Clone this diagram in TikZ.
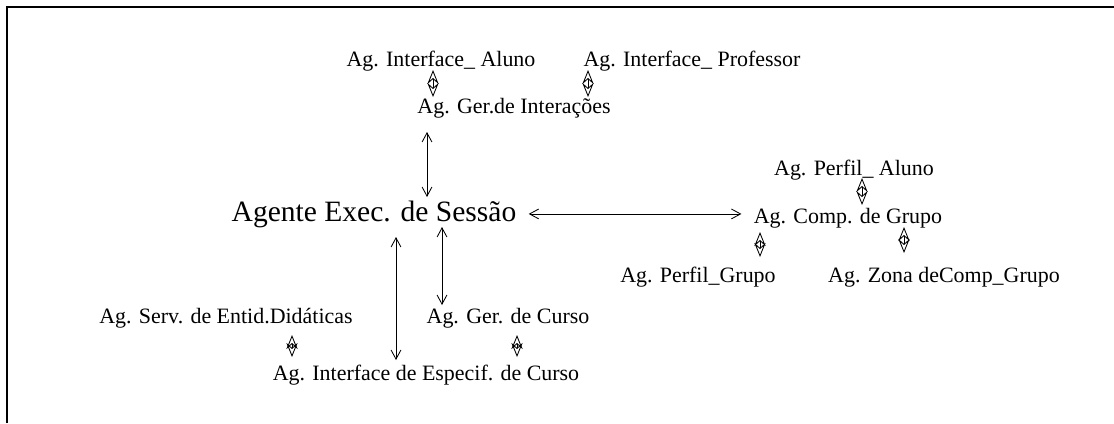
\documentclass[tikz,border=0pt]{standalone}
\usepackage{fontspec}
\setmainfont{Liberation Serif}
\usepackage{tikz}
\usetikzlibrary{arrows.meta}

\newlength\pxu
\setlength\pxu{0.025cm}

\begin{document}
\begin{tikzpicture}[
            x = 0.025cm, y = -0.025cm, % one unit per pixel, y downwards
            > = {Straight Barb[length=6.5pt, width=7pt]}, % arrow head style
            semithick % line style
        ]

        \tikzstyle{every node}=[
            inner sep = 0pt,
            anchor = base
        ]
        \tikzstyle{ag}=[font = \fontsize{15.6}{18}\selectfont]
        \tikzstyle{big}=[font = \fontsize{21}{25}\selectfont]
        \tikzstyle{dmd}=[
            {Stealth[open, length=10pt, width=8pt, inset=3.5pt]}-{Stealth[open, length=10pt, width=8pt, inset=3.5pt]}
        ]

        \useasboundingbox (0,0) rectangle (1114,423);
        \draw[line width = 1.6pt] (7,423) -- (7,7) -- (1114,7);

        \node[ag] (IA) at (441,66) {Ag. Interface\_ Aluno};
        \node[ag] (IP) at (692,66) {Ag. Interface\_ Professor};
        \node[ag] (GI) at (514,113) {Ag. Ger.de Interações};
        \node[big] (E) at (374,221) {Agente Exec. de Sessão};
        \node[ag] (PA) at (854,175) {Ag. Perfil\_ Aluno};
        \node[ag] (CG) at (848,223) {Ag. Comp. de Grupo};
        \node[ag] (PG) at (698,282) {Ag. Perfil\_Grupo};
        \node[ag] (ZC) at (944,282) {Ag. Zona deComp\_Grupo};
        \node[ag] (SD) at (226,323) {Ag. Serv. de Entid.Didáticas};
        \node[ag] (GC) at (508,323) {Ag. Ger. de Curso};
        \node[ag] (IE) at (426,380) {Ag. Interface de Especif. de Curso};

        \path (433,0 |- IA.base) edge[dmd, shorten <=4\pxu, shorten >=16\pxu] (433,0 |- GI.base);
        \path (588,0 |- IP.base) edge[dmd, shorten <=4\pxu, shorten >=16\pxu] (588,0 |- GI.base);
        \path (427,0 |- GI.base) edge[<->, shorten <=19\pxu, shorten >=24\pxu] (427,0 |- E.base);
        \path (E.east) edge[<->, shorten <=12\pxu, shorten >=12\pxu] (E.east -| CG.west);
        \path (862,0 |- PA.base) edge[dmd, shorten <=3\pxu, shorten >=18\pxu] (862,0 |- CG.base);
        \path (760,0 |- CG.base) edge[dmd, shorten <=9\pxu, shorten >=25\pxu] (760,0 |- PG.base);
        \path (904,0 |- CG.base) edge[dmd, shorten <=4\pxu, shorten >=29\pxu] (904,0 |- ZC.base);
        \path (442,0 |- E.base) edge[<->, shorten <=6\pxu, shorten >=18\pxu] (442,0 |- GC.base);
        \path (396,0 |- E.base) edge[<->, shorten <=16\pxu, shorten >=20\pxu] (396,0 |- IE.base);
        \path (292,0 |- SD.base) edge[dmd, shorten <=12\pxu, shorten >=23\pxu] (292,0 |- IE.base);
        \path (517,0 |- GC.base) edge[dmd, shorten <=12\pxu, shorten >=23\pxu] (517,0 |- IE.base);

        %\draw[red, dashed] (0,213) -- (1114,213);
    \end{tikzpicture}
\end{document}
